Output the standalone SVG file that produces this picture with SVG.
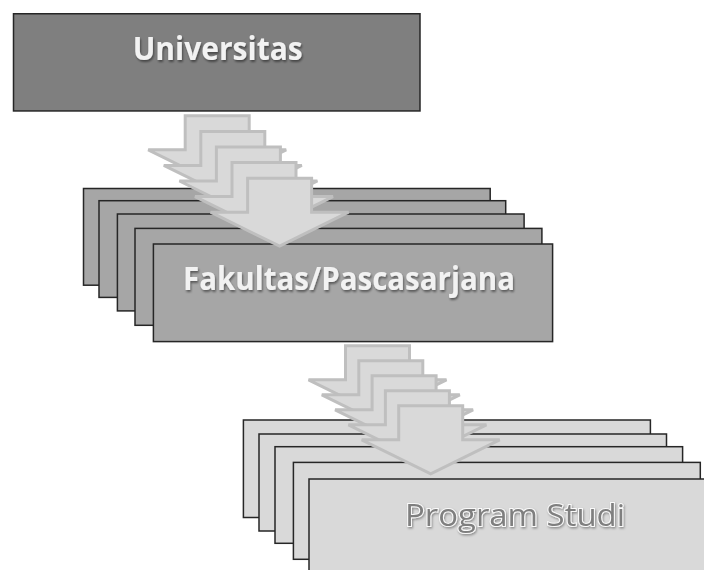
<svg xmlns="http://www.w3.org/2000/svg" width="704" height="570" viewBox="0 0 704 570">
<defs>
<filter id="sh" x="-10%" y="-30%" width="120%" height="160%">
<feDropShadow dx="1" dy="2" stdDeviation="1.2" flood-color="#000" flood-opacity="0.45"/>
</filter>
<filter id="sh2" x="-10%" y="-30%" width="120%" height="160%">
<feDropShadow dx="1" dy="1.5" stdDeviation="1" flood-color="#000" flood-opacity="0.35"/>
</filter>
<path id="arr" d="M-32,0 H32 V34 H69 L0,68 L-69,34 H-32 Z"/>
</defs>
<style>
.box{stroke:#262626;stroke-width:1.5}
.b1{fill:#7f7f7f}
.b2{fill:#a6a6a6}
.b3{fill:#d9d9d9}
.lbl{font-family:"Open Sans","Liberation Sans",sans-serif;font-weight:bold;font-size:32.5px;fill:#f2f2f2;filter:url(#sh)}
.lbl3{font-family:"Open Sans","Liberation Sans",sans-serif;font-size:31px;fill:#7f7f7f;stroke:#fafafa;stroke-width:2;paint-order:stroke;filter:url(#sh2)}
.arrow{fill:#d9d9d9;stroke:#bfbfbf;stroke-width:3}
</style>
<g id="universitas">
<rect class="box b1" x="13.5" y="13.75" width="406.5" height="97.2"/>
<text class="lbl" x="217.7" y="60" text-anchor="middle" textLength="170" lengthAdjust="spacingAndGlyphs">Universitas</text>
</g>
<g id="fakultas">
<rect class="box b2" x="83.5" y="188.5" width="406.7" height="96.7"/>
<rect class="box b2" x="99" y="200.7" width="406.7" height="96.7"/>
<rect class="box b2" x="117.4" y="214" width="406.7" height="96.9"/>
<rect class="box b2" x="135" y="228.4" width="406.9" height="96.9"/>
<rect class="box b2" x="153.4" y="244" width="399.2" height="97.6"/>
<text class="lbl" x="349" y="290" text-anchor="middle" textLength="332" lengthAdjust="spacingAndGlyphs">Fakultas/Pascasarjana</text>
</g>
<g id="program-studi">
<rect class="box b3" x="243.4" y="420" width="407" height="97.5"/>
<rect class="box b3" x="259" y="434" width="407.5" height="97"/>
<rect class="box b3" x="275" y="446.7" width="407.6" height="96.6"/>
<rect class="box b3" x="293.4" y="462.4" width="406.9" height="96.9"/>
<rect class="box b3" x="309" y="479" width="408" height="98"/>
<text class="lbl3" x="515" y="525.7" text-anchor="middle" textLength="220" lengthAdjust="spacingAndGlyphs">Program Studi</text>
</g>
<g id="connectors">
<g id="arrows-1">
<use href="#arr" class="arrow" transform="translate(217.2,115.8)"/>
<use href="#arr" class="arrow" transform="translate(232.8,131.4)"/>
<use href="#arr" class="arrow" transform="translate(248.4,147)"/>
<use href="#arr" class="arrow" transform="translate(264,162.6)"/>
<use href="#arr" class="arrow" transform="translate(279.6,178.2)"/>
</g>
<g id="arrows-2">
<use href="#arr" class="arrow" transform="translate(377.5,345.8)"/>
<use href="#arr" class="arrow" transform="translate(390.8,360.8)"/>
<use href="#arr" class="arrow" transform="translate(404.1,375.8)"/>
<use href="#arr" class="arrow" transform="translate(417.4,390.8)"/>
<use href="#arr" class="arrow" transform="translate(430.7,405.8)"/>
</g>
</g>
</svg>
